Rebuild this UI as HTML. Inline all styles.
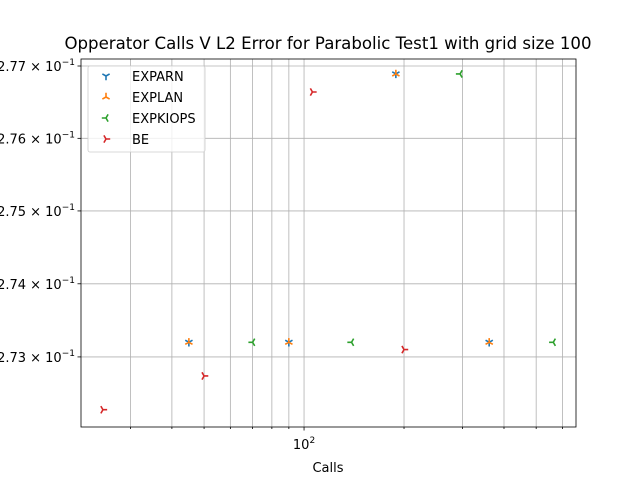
<!DOCTYPE html>
<html><head><meta charset="utf-8"><style>
body{margin:0;background:#fff}
svg{display:block;font-family:"DejaVu Sans","Liberation Sans",sans-serif}
</style></head><body>
<svg id="chart" width="640" height="480">
<rect width="640" height="480" fill="#fff"/>
<g id="grid"></g>
<g id="ticks"></g>
<g id="marks"></g>
<rect x="81" y="59" width="495" height="368" fill="none" stroke="#000" stroke-width="0.8"/>
<text x="328" y="49" text-anchor="middle" font-size="16.6">Opperator Calls V L2 Error for Parabolic Test1 with grid size 100</text>
<text x="328" y="472" text-anchor="middle" font-size="13">Calls</text>
<g id="legend"></g>
</svg>
<script>
const seriesNames=["EXPARN","EXPLAN","EXPKIOPS","BE"];
const colors=["#1f77b4","#ff7f0e","#2ca02c","#d62728"];
const exparnX=[45,90,189,361];
const exparnY=[0.27320,0.27320,0.27689,0.27320];
const explanX=[45,90,189,361];
const explanY=[0.27320,0.27320,0.27689,0.27320];
const expkiopsX=[70,139,295,563];
const expkiopsY=[0.27320,0.27320,0.27689,0.27320];
const beX=[24.8,50,106,200];
const beY=[0.27228,0.27274,0.27664,0.27310];
const yTicks=[0.273,0.274,0.275,0.276,0.277];
const yTickLabels=["2.73","2.74","2.75","2.76","2.77"];
const xMinorTicks=[30,40,50,60,70,80,90,200,300,400,500,600];

const L=81,R=576,T=59,B=427;
const xmin=21.3,xmax=659,ymin=0.272045,ymax=0.277097;
const NS="http://www.w3.org/2000/svg";
function xs(v){return L+(Math.log10(v)-Math.log10(xmin))/(Math.log10(xmax)-Math.log10(xmin))*(R-L);}
function ys(v){return B-(Math.log10(v)-Math.log10(ymin))/(Math.log10(ymax)-Math.log10(ymin))*(B-T);}
function mk(tag,attrs,parent){const e=document.createElementNS(NS,tag);for(const k in attrs)e.setAttribute(k,attrs[k]);parent.appendChild(e);return e;}
const grid=document.getElementById('grid'),ticks=document.getElementById('ticks'),marks=document.getElementById('marks'),legend=document.getElementById('legend');

[100].concat(xMinorTicks).forEach(v=>{
  const x=xs(v);
  const g=mk('line',{x1:x,x2:x,y1:T,y2:B,stroke:'#b0b0b0','stroke-width':0.8},grid);
  
  
  const t=mk('line',{x1:x,x2:x,y1:B,y2:B+(v===100?3.5:2),stroke:'#000','stroke-width':0.8},ticks);
  
  
});
const xl=mk('text',{x:xs(100),y:B+22,'text-anchor':'middle','font-size':13},ticks);


xl.innerHTML='10<tspan dy="-6" font-size="9">2</tspan>';

yTicks.forEach((v,i)=>{
  const y=ys(v);
  const g=mk('line',{x1:L,x2:R,y1:y,y2:y,stroke:'#b0b0b0','stroke-width':0.8},grid);
  
  
  const t=mk('line',{x1:L-3.5,x2:L,y1:y,y2:y,stroke:'#000','stroke-width':0.8},ticks);
  
  
  const lb=mk('text',{x:L-6,y:y+5,'text-anchor':'end','font-size':13},ticks);
  
  
  lb.innerHTML=yTickLabels[i]+' × 10<tspan dy="-6" font-size="9">−1</tspan>';
});

function tri(parent,cx,cy,type,color,r){
  let arms;
  const a=0.866*r,b=0.5*r;
  if(type==0)arms=[[0,r],[-a,-b],[a,-b]];
  else if(type==1)arms=[[0,-r],[-a,b],[a,b]];
  else if(type==2)arms=[[-r,0],[b,-a],[b,a]];
  else arms=[[r,0],[-b,-a],[-b,a]];
  const d=arms.map(p=>`M${cx},${cy}L${cx+p[0]},${cy+p[1]}`).join('');
  return mk('path',{d:d,stroke:color,'stroke-width':1.6,fill:'none'},parent);
}
const allX=[exparnX,explanX,expkiopsX,beX],allY=[exparnY,explanY,expkiopsY,beY];
allX.forEach((xsArr,s)=>{
  xsArr.forEach((xv,i)=>{
    const p=tri(marks,xs(xv),ys(allY[s][i]),s,colors[s],4.2);
    
    
  });
});

const box=mk('rect',{x:88,y:66,width:117,height:86,rx:2,fill:'#fff','fill-opacity':0.8,stroke:'#ccc','stroke-width':0.8},legend);


seriesNames.forEach((n,i)=>{
  const y=76+i*21;
  const m=tri(legend,106,y,i,colors[i],4.2);
  
  
  const t=mk('text',{x:132,y:y+5,'font-size':13},legend);
  
  
  t.textContent=n;
});
</script>
</body></html>
